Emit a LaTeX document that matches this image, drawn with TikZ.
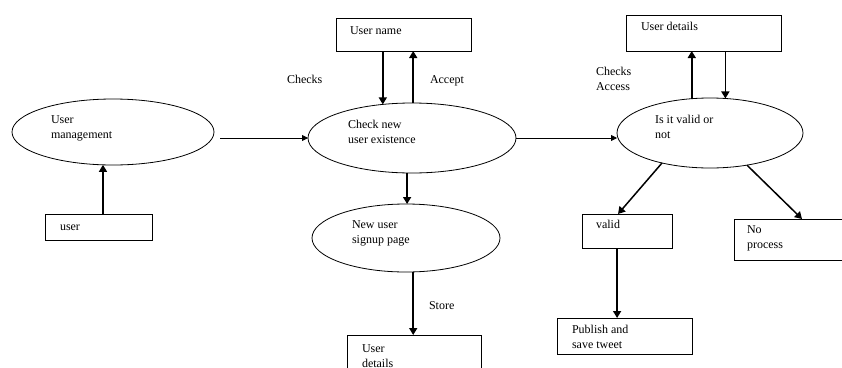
\documentclass[tikz,border=0pt]{standalone}
\usepackage{fontspec}
\setmainfont{Liberation Serif}
\usetikzlibrary{shapes.geometric,arrows.meta,calc}
\newcommand\txtlines[1]{\begin{tabular}[t]{@{}l@{}}#1\end{tabular}}
\begin{document}
\begin{tikzpicture}[x=1pt,y=-1pt,
  every node/.style={inner sep=0pt, outer sep=0pt},
  proc/.style={ellipse, draw, line width=0.8pt},
  store/.style={rectangle, draw, line width=0.8pt, anchor=north west},
  txt/.style={anchor=base west, font=\fontsize{12}{15}\selectfont},
  flow/.style={line width=1.5pt, -{Triangle[width=8pt,length=7pt]}},
  thin flow/.style={line width=0.8pt, -{Triangle[width=6pt,length=6pt]}},
]
\clip (0,0) rectangle (842,367);

% processes
\node[proc, minimum width=202pt, minimum height=66pt] (um) at (113,132) {};
\node[proc, minimum width=208pt, minimum height=70pt] (cn) at (412,138) {};
\node[proc, minimum width=188pt, minimum height=68pt] (nu) at (406,238) {};
\node[proc, minimum width=186pt, minimum height=70pt] (iv) at (710,133) {};

% data stores / entities
\node[store, minimum width=107pt, minimum height=26pt] (user) at (45,214) {};
\node[store, minimum width=135pt, minimum height=33pt] (un) at (336,18) {};
\node[store, minimum width=134pt, minimum height=50pt] (ud) at (347,335) {};
\node[store, minimum width=155pt, minimum height=36pt] (ut) at (626,15) {};
\node[store, minimum width=90pt, minimum height=34pt] (valid) at (582,214) {};
\node[store, minimum width=116pt, minimum height=41pt] (np) at (734,219) {};
\node[store, minimum width=135pt, minimum height=36pt] (pub) at (557,318) {};

% texts
\node[txt] (t-um) at (51,123) {\txtlines{User\\management}};
\node[txt] (t-user) at (60,230) {user};
\node[txt] (t-un) at (350,34) {User name};
\node[txt] (t-checks) at (287,83) {Checks};
\node[txt] (t-accept) at (430,83) {Accept};
\node[txt] (t-cn) at (348,128) {\txtlines{Check new\\user existence}};
\node[txt] (t-nu) at (352,228) {\txtlines{New user\\signup page}};
\node[txt] (t-store) at (429,309) {Store};
\node[txt] (t-ud) at (362,352) {\txtlines{User\\details}};
\node[txt] (t-ut) at (641,30) {User details};
\node[txt] (t-access) at (596,75) {\txtlines{Checks\\Access}};
\node[txt] (t-iv) at (655,123) {\txtlines{Is it valid or\\not}};
\node[txt] (t-valid) at (596,228) {valid};
\node[txt] (t-np) at (747,233) {\txtlines{No\\process}};
\node[txt] (t-pub) at (572,333) {\txtlines{Publish and\\save tweet}};

% connectors
\draw[flow] (user.north -| um.253) -- (um.253);
\coordinate (umout) at ([xshift=6pt]um.east);
\draw[thin flow] (umout |- cn.west) -- (cn.west);
\draw[flow] (un.south -| cn.131) -- (cn.131);
\draw[flow] (cn.88) -- (cn.88 |- un.south);
\draw[flow] (cn.262) -- (cn.262 |- nu.north);
\draw[flow] (nu.282) -- (nu.282 |- ud.north);
\draw[thin flow] (cn.east) -- (cn.east -| iv.west);
\draw[flow] (iv.118) -- (iv.118 |- ut.south);
\draw[flow] (ut.south -| iv.66) -- (iv.66);
\draw[flow] (iv.212) -- ($(valid.north west)!0.4!(valid.north east)$);
\draw[flow] (iv.319) -- ([xshift=68pt]np.north west);
\coordinate (vs) at ($(valid.south west)!0.39!(valid.south east)$);
\draw[flow] (vs) -- (vs |- pub.north);
\end{tikzpicture}
\end{document}
